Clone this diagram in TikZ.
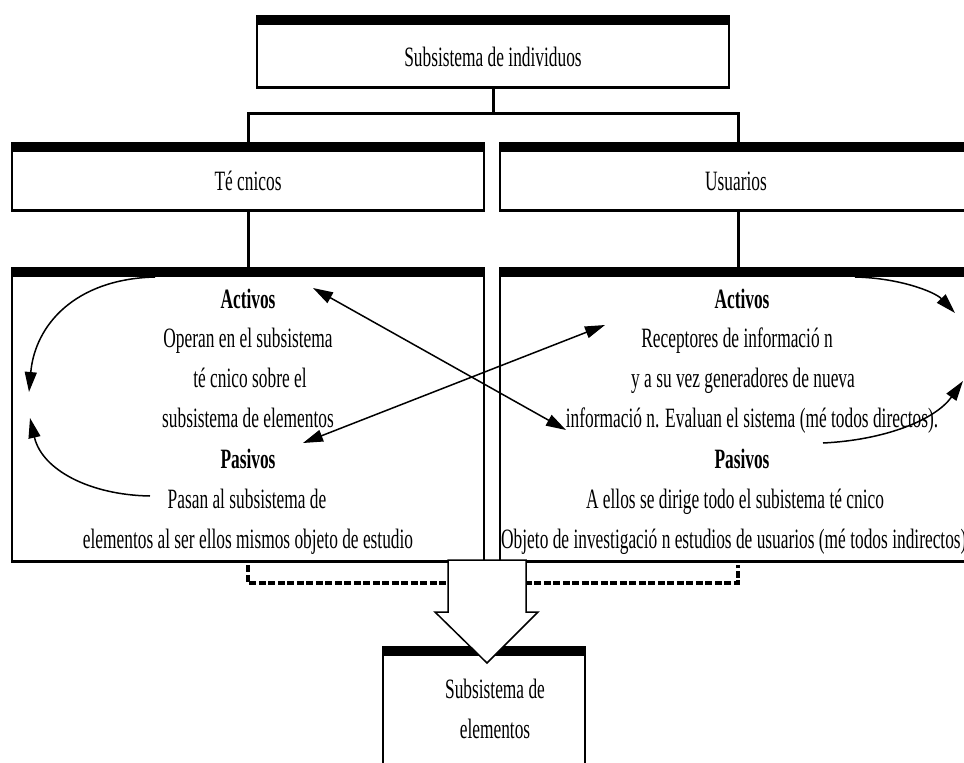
\documentclass[tikz,border=0pt]{standalone}
\usepackage{fontspec}
\setmainfont{Liberation Serif}[FakeStretch=0.62]
\usetikzlibrary{arrows.meta}
\begin{document}
\begin{tikzpicture}[x=1pt,y=-1pt,
  box/.style={draw, line width=2.5pt, inner sep=0pt,
    path picture={\fill (path picture bounding box.north west) rectangle ([yshift=-9pt]path picture bounding box.north east);
                  \fill (path picture bounding box.south west) rectangle ([yshift=2pt]path picture bounding box.south east);}},
  txt/.style={font=\fontsize{28}{34}\selectfont, anchor=base, inner sep=0pt},
  btxt/.style={txt, font=\fontsize{28}{34}\selectfont\bfseries},
  conn/.style={line width=3pt},
  arr/.style={line width=1.5pt, -{Triangle[length=20pt,width=12pt]}},
  darr/.style={line width=1.5pt, {Triangle[length=20pt,width=12pt]}-{Triangle[length=20pt,width=12pt]}},
  dashbracket/.style={line width=4pt, dash pattern=on 7pt off 2.5pt},
  hollow/.style={draw, line width=1.5pt, fill=white, line join=miter}
]
\useasboundingbox (0,0) rectangle (964,763);
\fill[white] (0,0) rectangle (964,763);
\clip (0,0) rectangle (964,763);

% boxes
\node[box, minimum width=472pt, minimum height=72pt] (indiv) at (493,52) {};
\node[txt] (indivt) at (493,66) {Subsistema de individuos};
\node[box, minimum width=472pt, minimum height=68pt] (tec) at (248,177) {};
\node[txt] (tect) at (248,190) {Té cnicos};
\node[box, minimum width=476pt, minimum height=68pt] (usu) at (738,177) {};
\node[txt] (usut) at (736,190) {Usuarios};
\node[box, minimum width=472pt, minimum height=294pt] (tecbig) at (248,415) {};
\node[box, minimum width=476pt, minimum height=294pt] (usubig) at (738,415) {};
\node[box, minimum width=202pt, minimum height=153pt] (elem) at (484,723.5) {};
\node[txt] (elemt1) at (495,698) {Subsistema de};
\node[txt] (elemt2) at (495,738) {elementos};

% tree connectors
\coordinate (j) at (493,113);
\draw[conn] (indiv.south) -- (indiv.south |- j);
\draw[conn] (tec.north) |- (j) -| (usu.north);
\draw[conn] (tec.south) -- (tecbig.north);
\draw[conn] (usu.south) -- (usubig.north);

% left box text
\node[btxt] (la) at (248,308) {Activos};
\node[txt] (l1) at (248,347) {Operan en el subsistema};
\node[txt] (l2) at (250,387) {té cnico sobre el};
\node[txt] (l3) at (248,427) {subsistema de elementos};
\node[btxt] (lp) at (248,468) {Pasivos};
\node[txt] (l4) at (247,508) {Pasan al subsistema de};
\node[txt] (l5) at (248,548) {elementos al ser ellos mismos objeto de estudio};

% right box text
\node[btxt] (ra) at (742,308) {Activos};
\node[txt] (r1) at (737,347) {Receptores de informació n};
\node[txt] (r2) at (743,387) {y a su vez generadores de nueva};
\node[txt] (r3) at (752,427) {informació n. Evaluan el sistema (mé todos directos).};
\node[btxt] (rp) at (742,468) {Pasivos};
\node[txt] (r4) at (735,508) {A ellos se dirige todo el subistema té cnico};
\node[txt, anchor=base west] (r5) at (501,548) {Objeto de investigació n estudios de usuarios (mé todos indirectos)};

% curved arrows
\coordinate (c1s) at (155,277); \coordinate (c1e) at (29,392);
\draw[arr] (c1s) .. controls (75,279) and (35,325) .. (c1e);
\coordinate (c2s) at (150,496); \coordinate (c2e) at (30,418);
\draw[arr] (c2s) .. controls (90,495) and (42,470) .. (c2e);
\coordinate (c3s) at (855,277); \coordinate (c3e) at (955,313);
\draw[arr] (c3s) .. controls (900,278) and (935,292) .. (c3e);
\coordinate (c4s) at (823,443); \coordinate (c4e) at (963,381);
\draw[arr] (c4s) .. controls (885,440) and (935,420) .. (c4e);

% crossing arrows
\coordinate (s1a) at (313,288); \coordinate (s1b) at (566,430);
\draw[darr] (s1a) -- (s1b);
\coordinate (s2a) at (303,443); \coordinate (s2b) at (605,325);
\draw[darr] (s2a) -- (s2b);

% dashed bracket
\coordinate (bk) at (493,583);
\draw[dashbracket] ([yshift=-2pt]tecbig.south) |- (bk) -| ([yshift=-2pt]usubig.south);

% hollow arrow
\draw[hollow] (448,560) -- (526,560) -- (526,612) -- (538,612) -- (487,663) -- (435,612) -- (448,612) -- cycle;
\end{tikzpicture}
\end{document}
